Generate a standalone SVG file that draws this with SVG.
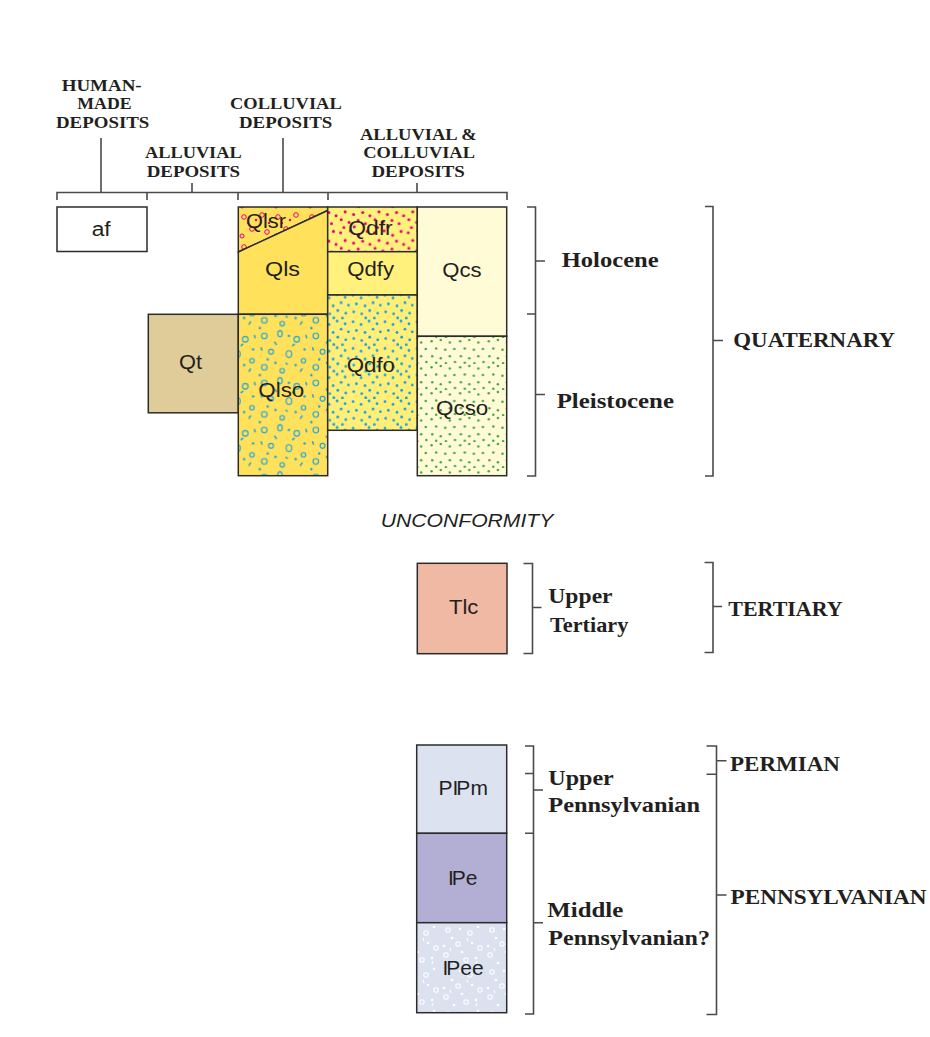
<svg xmlns="http://www.w3.org/2000/svg" width="930" height="1037" viewBox="0 0 930 1037">
<style>
.box{stroke:#2b2b2b;stroke-width:1.5}
.ln{fill:none;stroke:#4a4a4a;stroke-width:1.6}
.hdr{font-family:"Liberation Serif",serif;font-weight:bold;font-size:17.5px;fill:#231f20}
.age{font-family:"Liberation Serif",serif;font-weight:bold;font-size:22px;fill:#231f20}
.unit{font-family:"Liberation Sans",Arial,sans-serif;font-size:20px;fill:#231f20}
.unit2{font-family:"Liberation Sans",Arial,sans-serif;font-size:21px;fill:#231f20}
.unc{font-family:"Liberation Sans",Arial,sans-serif;font-style:italic;font-size:18.5px;fill:#231f20}
</style>
<defs>
<pattern id="pQdfr" patternUnits="userSpaceOnUse" width="26" height="22" patternTransform="scale(1.3)">
<rect width="26" height="22" fill="#FFF17C"/>
<g fill="#E8007D">
<circle cx="2" cy="3" r="1.15"/><circle cx="9.5" cy="1.5" r="1.15"/><circle cx="16" cy="5" r="1.15"/><circle cx="22.5" cy="2" r="1.15"/>
<circle cx="5.5" cy="9" r="1.15"/><circle cx="12" cy="11" r="1.15"/><circle cx="19" cy="9.5" r="1.15"/><circle cx="24.5" cy="12" r="1.15"/>
<circle cx="2.5" cy="15" r="1.15"/><circle cx="8.5" cy="17" r="1.15"/><circle cx="15.5" cy="15.5" r="1.15"/><circle cx="21" cy="18" r="1.15"/>
<circle cx="4.5" cy="21" r="1.15"/><circle cx="12.5" cy="20.5" r="1.15"/>
</g>
</pattern>
<pattern id="pQdfo" patternUnits="userSpaceOnUse" width="24" height="20" patternTransform="scale(1.33)">
<rect width="24" height="20" fill="#FFEE78"/>
<g fill="#16A3DC">
<circle cx="1.5" cy="2" r="1.05"/><circle cx="7.5" cy="4" r="1.05"/><circle cx="13.5" cy="1.5" r="1.05"/><circle cx="19.5" cy="3.5" r="1.05"/>
<circle cx="4" cy="8.5" r="1.05"/><circle cx="10.5" cy="10" r="1.05"/><circle cx="16.5" cy="7.5" r="1.05"/><circle cx="22" cy="9.5" r="1.05"/>
<circle cx="2" cy="14.5" r="1.05"/><circle cx="8" cy="16" r="1.05"/><circle cx="14" cy="13.5" r="1.05"/><circle cx="20" cy="15.5" r="1.05"/>
<circle cx="11" cy="19" r="1.05"/><circle cx="17.5" cy="19.2" r="1.05"/>
</g>
</pattern>
<pattern id="pQcso" patternUnits="userSpaceOnUse" width="22" height="20" patternTransform="scale(1.3)">
<rect width="22" height="20" fill="#FFFBD6"/>
<g fill="#41A843">
<circle cx="2" cy="2.5" r="0.95"/><circle cx="9" cy="1.5" r="0.95"/><circle cx="16" cy="3.5" r="0.95"/>
<circle cx="5.5" cy="8" r="0.95"/><circle cx="12.5" cy="9" r="0.95"/><circle cx="19.5" cy="8.5" r="0.95"/>
<circle cx="2.5" cy="14" r="0.95"/><circle cx="9" cy="15.5" r="0.95"/><circle cx="16" cy="14" r="0.95"/>
<circle cx="5.5" cy="19" r="0.95"/><circle cx="13" cy="19.5" r="0.95"/><circle cx="20" cy="18.5" r="0.95"/>
</g>
</pattern>
<pattern id="pQlsr" patternUnits="userSpaceOnUse" width="34" height="30">
<rect width="34" height="30" fill="#FFE15B"/>
<g fill="none" stroke="#E8007D" stroke-width="1">
<circle cx="6" cy="7" r="2.3"/><circle cx="24" cy="5" r="2.3"/><circle cx="14" cy="19" r="2.3"/><circle cx="29" cy="22" r="2.3"/><circle cx="4" cy="26" r="2"/>
</g>
<g fill="#E8007D"><circle cx="18" cy="10" r="1.2"/><circle cx="10" cy="13" r="1.1"/><circle cx="31" cy="13" r="1.2"/></g>
</pattern>
<pattern id="pQlso" patternUnits="userSpaceOnUse" width="46" height="42" patternTransform="scale(1.12)">
<rect width="46" height="42" fill="#FFE15B"/>
<g fill="none" stroke="#1AA3DB" stroke-width="1">
<circle cx="6" cy="6" r="2.5"/><ellipse cx="20" cy="4" rx="2" ry="2.8"/><circle cx="35" cy="9" r="2.5"/><circle cx="12" cy="20" r="2.2"/>
<ellipse cx="28" cy="22" rx="2.5" ry="3"/><circle cx="41" cy="28" r="2"/><circle cx="6" cy="34" r="2.5"/><circle cx="22" cy="37" r="2"/>
<path d="M15 11L17 14M31 15L33 13M3 16L4 19M38 38L40 35M25 30L27 31.5M43 5L44 8" stroke-width="1.3"/>
</g>
<g fill="#1AA3DB"><circle cx="28" cy="6" r="1.1"/><circle cx="42" cy="18" r="1.1"/><circle cx="16" cy="30" r="1.1"/><circle cx="34" cy="32" r="1.1"/><circle cx="9" cy="27" r="1.1"/><circle cx="2" cy="41" r="1.1"/></g>
</pattern>
<pattern id="pIPee" patternUnits="userSpaceOnUse" width="44" height="42">
<rect width="44" height="42" fill="#DCE1F0"/>
<g fill="none" stroke="#ffffff" stroke-width="1.1">
<circle cx="8" cy="6" r="2.2"/><circle cx="30" cy="9" r="2.2"/><circle cx="18" cy="20" r="2.2"/><circle cx="40" cy="24" r="2.2"/><circle cx="6" cy="31" r="2.2"/><circle cx="26" cy="36" r="2.2"/>
<path d="M27 14L28 17M10 24L11 27M36 40L37 37"/>
</g>
<g fill="#ffffff"><circle cx="20" cy="5" r="1.3"/><circle cx="38" cy="3" r="1.3"/><circle cx="12" cy="14" r="1.3"/><circle cx="32" cy="19" r="1.3"/><circle cx="4" cy="22" r="1.3"/><circle cx="22" cy="28" r="1.3"/><circle cx="36" cy="34" r="1.3"/><circle cx="14" cy="39" r="1.3"/></g>
</pattern>
</defs>
<rect width="930" height="1037" fill="#ffffff"/>

<g id="connectors">
<path class="ln" d="M57,200V192.5H507V200M147,192.5V200M238,192.5V200M328,192.5V200M101,138V192.5M192,183V192.5M283,138V192.5M417,183V192.5"/>
<path class="ln" d="M527,207H535.5V476H527M527,314H535.5M535.5,261H545M535.5,394.5H545"/>
<path class="ln" d="M705,206.5H713V476H705M713,340.5H723"/>
<path class="ln" d="M523.5,563.5H532.5V653.5H523.5M532.5,607.5H541.5"/>
<path class="ln" d="M704.5,562.5H713V652.5H704.5M713,606.5H722"/>
<path class="ln" d="M525,746H533.5V1014H525M525,773.5H533.5M525,833.3H533.5M533.5,790H543M533.5,922.7H543"/>
<path class="ln" d="M706.5,746H716.5V1014.5H706.5M706.5,774.3H716.5M716.5,760.7H726.5M716.5,895H726.5"/>
</g>

<g id="headers">
<text class="hdr" x="61.7" y="90.5" textLength="80" lengthAdjust="spacingAndGlyphs">HUMAN-</text>
<text class="hdr" x="77.3" y="109" textLength="54.3" lengthAdjust="spacingAndGlyphs">MADE</text>
<text class="hdr" x="56" y="127.5" textLength="93.3" lengthAdjust="spacingAndGlyphs">DEPOSITS</text>
<text class="hdr" x="230" y="109" textLength="111.7" lengthAdjust="spacingAndGlyphs">COLLUVIAL</text>
<text class="hdr" x="239" y="127.5" textLength="93.3" lengthAdjust="spacingAndGlyphs">DEPOSITS</text>
<text class="hdr" x="145" y="158" textLength="96.7" lengthAdjust="spacingAndGlyphs">ALLUVIAL</text>
<text class="hdr" x="146.7" y="176.5" textLength="93.3" lengthAdjust="spacingAndGlyphs">DEPOSITS</text>
<text class="hdr" x="360" y="140" textLength="116.7" lengthAdjust="spacingAndGlyphs">ALLUVIAL &amp;</text>
<text class="hdr" x="363.3" y="158" textLength="111.7" lengthAdjust="spacingAndGlyphs">COLLUVIAL</text>
<text class="hdr" x="371.5" y="176.5" textLength="93.3" lengthAdjust="spacingAndGlyphs">DEPOSITS</text>
</g>

<g id="af"><rect class="box" x="57" y="207" width="90" height="44.5" fill="#ffffff"/><text class="unit" x="91.7" y="236" textLength="19" lengthAdjust="spacingAndGlyphs">af</text></g>
<g id="Qt"><rect class="box" x="148.3" y="314.3" width="90" height="98.5" fill="#DFCC98"/><text class="unit" x="179" y="368.5" textLength="23" lengthAdjust="spacingAndGlyphs">Qt</text></g>
<g id="Qlsr"><polygon class="box" points="238.3,207 327.7,207 327.7,210.5 238.3,252" fill="url(#pQlsr)"/><text class="unit" x="246" y="228" textLength="40" lengthAdjust="spacingAndGlyphs">Qlsr</text></g>
<g id="Qls"><polygon class="box" points="238.3,252 327.7,210.5 327.7,314.3 238.3,314.3" fill="#FFE15B"/><text class="unit" x="265" y="276" textLength="35" lengthAdjust="spacingAndGlyphs">Qls</text></g>
<g id="Qlso"><rect class="box" x="238.3" y="314.3" width="89.4" height="161.4" fill="url(#pQlso)"/><text class="unit" x="258.3" y="396.5" textLength="46" lengthAdjust="spacingAndGlyphs">Qlso</text></g>
<g id="Qdfr"><rect class="box" x="327.7" y="207" width="89.6" height="44.7" fill="url(#pQdfr)"/><text class="unit" x="348.3" y="235" textLength="44.4" lengthAdjust="spacingAndGlyphs">Qdfr</text></g>
<g id="Qdfy"><rect class="box" x="327.7" y="251.7" width="89.6" height="43.3" fill="#FFF17C"/><text class="unit" x="347.3" y="276" textLength="46.7" lengthAdjust="spacingAndGlyphs">Qdfy</text></g>
<g id="Qdfo"><rect class="box" x="327.7" y="295" width="89.6" height="135.3" fill="url(#pQdfo)"/><text class="unit" x="346.7" y="371.5" textLength="48.3" lengthAdjust="spacingAndGlyphs">Qdfo</text></g>
<g id="Qcs"><rect class="box" x="417.3" y="207" width="89.4" height="129.3" fill="#FFFBD6"/><text class="unit" x="442.3" y="276.5" textLength="39.3" lengthAdjust="spacingAndGlyphs">Qcs</text></g>
<g id="Qcso"><rect class="box" x="417.3" y="336.3" width="89.4" height="139.4" fill="url(#pQcso)"/><text class="unit" x="436" y="415" textLength="52.3" lengthAdjust="spacingAndGlyphs">Qcso</text></g>

<g id="unconformity"><text class="unc" x="380.7" y="527.3" textLength="172.7" lengthAdjust="spacingAndGlyphs">UNCONFORMITY</text></g>

<g id="Tlc"><rect class="box" x="417.3" y="563.3" width="89.7" height="90.4" fill="#EFB9A4"/><text class="unit" x="449" y="614" textLength="29.3" lengthAdjust="spacingAndGlyphs">Tlc</text></g>
<g id="PIPm"><rect class="box" x="416.7" y="745" width="90" height="88.3" fill="#DDE2F1"/><text class="unit2" x="438.5" y="795">P<tspan>I</tspan><tspan dx="-2">P</tspan>m</text></g>
<g id="IPe"><rect class="box" x="416.7" y="833.3" width="90" height="89.4" fill="#B3AFD4"/><text class="unit2" x="448" y="884.5">I<tspan dx="-2">P</tspan>e</text></g>
<g id="IPee"><rect class="box" x="416.7" y="922.7" width="90" height="90" fill="url(#pIPee)"/><text class="unit2" x="442.5" y="974.5">I<tspan dx="-2">P</tspan>ee</text></g>

<g id="ages">
<text class="age" x="561.7" y="267" textLength="97" lengthAdjust="spacingAndGlyphs">Holocene</text>
<text class="age" x="556.7" y="408" textLength="117.3" lengthAdjust="spacingAndGlyphs">Pleistocene</text>
<text class="age" x="733.3" y="346.7" textLength="161.7" lengthAdjust="spacingAndGlyphs">QUATERNARY</text>
<text class="age" x="548.3" y="602.7" textLength="64.3" lengthAdjust="spacingAndGlyphs">Upper</text>
<text class="age" x="550" y="631.7" textLength="78.3" lengthAdjust="spacingAndGlyphs">Tertiary</text>
<text class="age" x="728.3" y="615.7" textLength="114.3" lengthAdjust="spacingAndGlyphs">TERTIARY</text>
<text class="age" x="548.3" y="785" textLength="65.5" lengthAdjust="spacingAndGlyphs">Upper</text>
<text class="age" x="548.3" y="811.7" textLength="151.7" lengthAdjust="spacingAndGlyphs">Pennsylvanian</text>
<text class="age" x="547.3" y="916.7" textLength="76" lengthAdjust="spacingAndGlyphs">Middle</text>
<text class="age" x="548.3" y="945" textLength="161.7" lengthAdjust="spacingAndGlyphs">Pennsylvanian?</text>
<text class="age" x="730" y="770.7" textLength="110" lengthAdjust="spacingAndGlyphs">PERMIAN</text>
<text class="age" x="730.5" y="904" textLength="196" lengthAdjust="spacingAndGlyphs">PENNSYLVANIAN</text>
</g>
</svg>
